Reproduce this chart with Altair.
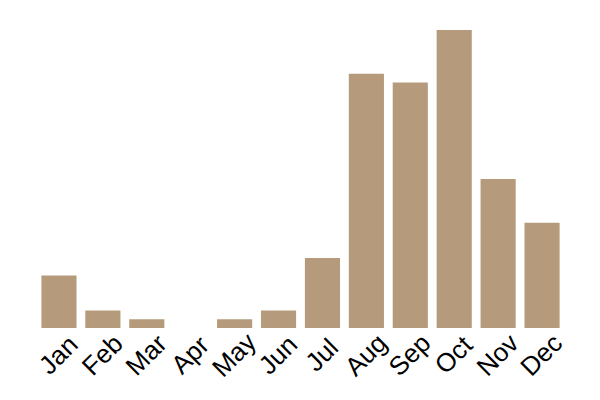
import altair as alt
import pandas as pd

months = ["Jan", "Feb", "Mar", "Apr", "May", "Jun", "Jul", "Aug", "Sep", "Oct", "Nov", "Dec"]
values = [6, 2, 1, 0, 1, 2, 8, 29, 28, 34, 17, 12]

df = pd.DataFrame({"month": months, "value": values})

chart = alt.Chart(df).mark_bar(color="#b59b7c").encode(
    x=alt.X("month:N", sort=months, title=None,
            scale=alt.Scale(paddingInner=0.2, paddingOuter=0.1),
            axis=alt.Axis(labelAngle=-45, labelFontSize=26, labelFont="Liberation Sans",
                          labelAlign="center", labelBaseline="middle",
                          labelColor="#000", domain=False, ticks=False, labelPadding=27)),
    y=alt.Y("value:Q", title=None, axis=None, scale=alt.Scale(domain=[0, 34], nice=False)),
).properties(
    width=527, height=298,
    autosize=alt.AutoSizeParams(type="none"),
    padding={"left": 29, "top": 22, "right": 28, "bottom": 64},
).configure_view(stroke=None)

chart.save("out.html", embed_options={"renderer": "svg", "actions": False})
